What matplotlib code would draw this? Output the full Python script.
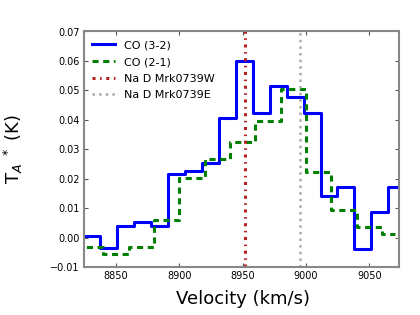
import matplotlib
matplotlib.use("Agg")
import matplotlib.pyplot as plt

# CO (3-2) spectrum, channel centres (km/s) and T_A* (K)
vel_32 = [8817.2, 8830.6, 8844.0, 8857.4, 8870.8, 8884.2, 8897.6, 8911.0, 8924.4, 8937.8,
          8951.2, 8964.6, 8978.0, 8991.4, 9004.8, 9018.2, 9031.6, 9045.0, 9058.4, 9071.8]
ta_32 = [0.0007, 0.0007, -0.0035, 0.0041, 0.0054, 0.0041, 0.0216, 0.0228, 0.0253, 0.0406,
         0.0601, 0.0425, 0.0515, 0.0478, 0.0425, 0.0143, 0.0172, -0.0038, 0.0088, 0.0172]

# CO (2-1) spectrum
vel_21 = [8810, 8830, 8850, 8870, 8890, 8910, 8930, 8950, 8970, 8990, 9010, 9030, 9050, 9070]
ta_21 = [-0.003, -0.003, -0.0056, -0.003, 0.0062, 0.0204, 0.0267, 0.0325, 0.0397, 0.0506,
         0.0225, 0.0094, 0.0036, 0.0014]

# Na D velocities
nad_w = 8952
nad_e = 8995

fig = plt.figure(figsize=(4.2, 3.15), dpi=100)
ax = fig.add_axes([0.199, 0.1514, 0.751, 0.7486])

ax.plot(vel_32, ta_32, drawstyle='steps-mid', color='b', lw=2.2, label='CO (3-2)')
ax.plot(vel_21, ta_21, drawstyle='steps-mid', color='g', lw=2.2, dashes=(2.0, 1.5),
        label='CO (2-1)')
ax.axvline(nad_w, color='#b22222', lw=2.2, dashes=(1.0, 1.5, 0.5, 1.5), label='Na D Mrk0739W')
ax.axvline(nad_e, color='#aaaaaa', ls=':', lw=1.8, label='Na D Mrk0739E')

ax.set_xlim(8824.3, 9073.5)
ax.set_ylim(-0.01, 0.07)
ax.set_xticks([8850, 8900, 8950, 9000, 9050])
ax.set_yticks([-0.01, 0.0, 0.01, 0.02, 0.03, 0.04, 0.05, 0.06, 0.07])
ax.set_yticklabels(['\u22120.01', '0.00', '0.01', '0.02', '0.03', '0.04', '0.05', '0.06', '0.07'])
ax.tick_params(direction='in', top=True, right=True, labelsize=7, length=3, width=0.8,
               color='#555555', pad=3)
for s in ax.spines.values():
    s.set_color('#888888')
    s.set_linewidth(1.5)

ax.set_xlabel('Velocity (km/s)', fontsize=13)
ax.set_ylabel(r'T$_A\ ^*$ (K)', fontsize=13)
ax.xaxis.set_label_coords(0.504, -0.095)
ax.yaxis.set_label_coords(-0.185, 0.5)

ax.legend(loc='upper left', frameon=False, fontsize=8, handlelength=2.0,
          labelspacing=0.6, borderaxespad=0.4)

fig.savefig('out.png', dpi=100)
